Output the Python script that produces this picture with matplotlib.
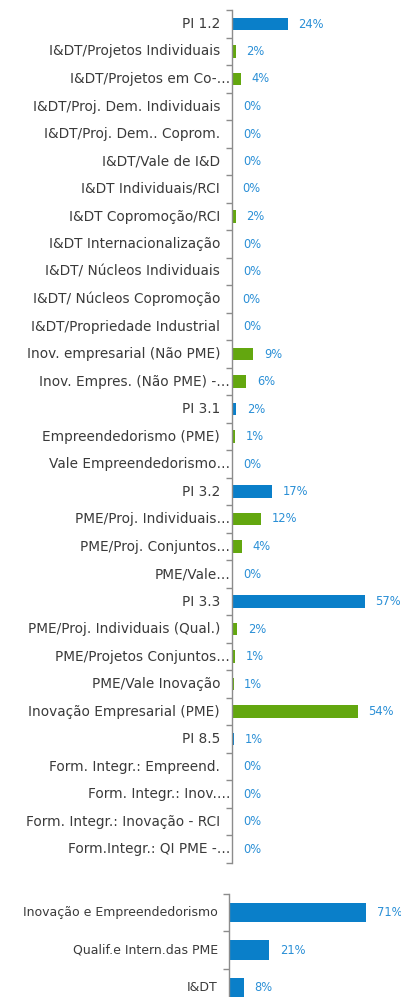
import matplotlib
matplotlib.use("Agg")
import matplotlib.pyplot as plt
import matplotlib.transforms as mtransforms
import numpy as np

# ---- Data (top chart) ----
categories = [
    "PI 1.2", "I&DT/Projetos Individuais", "I&DT/Projetos em Co-…",
    "I&DT/Proj. Dem. Individuais", "I&DT/Proj. Dem.. Coprom.", "I&DT/Vale de I&D",
    "I&DT Individuais/RCI", "I&DT Copromoção/RCI", "I&DT Internacionalização",
    "I&DT/ Núcleos Individuais", "I&DT/ Núcleos Copromoção", "I&DT/Propriedade Industrial",
    "Inov. empresarial (Não PME)", "Inov. Empres. (Não PME) -…", "PI 3.1",
    "Empreendedorismo (PME)", "Vale Empreendedorismo…", "PI 3.2",
    "PME/Proj. Individuais…", "PME/Proj. Conjuntos…", "PME/Vale…",
    "PI 3.3", "PME/Proj. Individuais (Qual.)", "PME/Projetos Conjuntos…",
    "PME/Vale Inovação", "Inovação Empresarial (PME)", "PI 8.5",
    "Form. Integr.: Empreend.", "Form. Integr.: Inov.…", "Form. Integr.: Inovação - RCI",
    "Form.Integr.: QI PME -…",
]
values = [
    24.0, 1.7, 3.8,
    0.4, 0.4, 0.4,
    0.0, 1.6, 0.4,
    0.4, 0.0, 0.4,
    9.2, 6.2, 1.8,
    1.3, 0.4, 17.2,
    12.4, 4.4, 0.4,
    57.0, 2.2, 1.3,
    0.7, 54.0, 1.0,
    0.4, 0.4, 0.4,
    0.4,
]
is_priority = [c.startswith("PI ") for c in categories]

# ---- Data (bottom chart) ----
summary_categories = ["Inovação e Empreendedorismo", "Qualif.e Intern.das PME", "I&DT"]
summary_values = [71.0, 21.0, 8.0]

BLUE = "#0A7FC9"
GREEN = "#63A70F"
LABEL_BLUE = "#2A8FD6"
TEXT = "#3A3A3A"
AXIS = "#8C8C8C"

W, H = 401, 997
fig = plt.figure(figsize=(W / 100, H / 100), dpi=100)
fig.patch.set_facecolor("white")

def frac_x(px):
    return px / W

def frac_y(py):
    return 1 - py / H

VAL_FONT = 8.3

def style_axes(ax, n, labels, fsize, gap_px, trunc_gap_px):
    for s in ["top", "right", "bottom"]:
        ax.spines[s].set_visible(False)
    ax.spines["left"].set_color(AXIS)
    ax.spines["left"].set_linewidth(1.0)
    ax.set_xticks([])
    ax.set_yticks(np.arange(n + 1) - 0.5)
    ax.set_yticklabels([])
    ax.tick_params(axis="y", which="major", length=4, color=AXIS, width=1.0)
    ax.set_ylim(n - 0.5, -0.5)
    base = ax.get_yaxis_transform()
    for i, lab in enumerate(labels):
        g = trunc_gap_px if lab.endswith("…") else gap_px
        tr = base + mtransforms.ScaledTranslation(-g / 100, 0, fig.dpi_scale_trans)
        ax.text(0, i, lab, transform=tr, ha="right", va="center",
                fontsize=fsize, color=TEXT)

# Top chart
n = len(categories)
x0 = 232
top_px, bot_px = 10.25, 862.75
ppu = 2.33
right_px = 395
ax = fig.add_axes([frac_x(x0), frac_y(bot_px), frac_x(right_px - x0), (bot_px - top_px) / H])
colors = [BLUE if p else GREEN for p in is_priority]
ypos = np.arange(n)
ax.barh(ypos, values, height=0.44, color=colors)
ax.set_xlim(0, (right_px - x0) / ppu)
style_axes(ax, n, categories, 9.8, 12, 2)
off = 10.5 / ppu
for y, v in zip(ypos, values):
    ax.text(v + off, y, f"{round(v):.0f}%", va="center", ha="left",
            fontsize=VAL_FONT, color=LABEL_BLUE, clip_on=False)

# Bottom chart
m = len(summary_categories)
x1 = 228.5
top2, bot2 = 893.75, 1006.25
ppu2 = 1.94
ax2 = fig.add_axes([frac_x(x1), frac_y(bot2), frac_x(right_px - x1), (bot2 - top2) / H])
ax2.barh(np.arange(m), summary_values, height=0.52, color=BLUE)
ax2.set_xlim(0, (right_px - x1) / ppu2)
style_axes(ax2, m, summary_categories, 9.0, 10.5, 2)
off2 = 10.5 / ppu2
for y, v in enumerate(summary_values):
    ax2.text(v + off2, y, f"{v:.0f}%", va="center", ha="left",
             fontsize=VAL_FONT, color=LABEL_BLUE, clip_on=False)

fig.savefig("out.png", dpi=100, facecolor="white")
